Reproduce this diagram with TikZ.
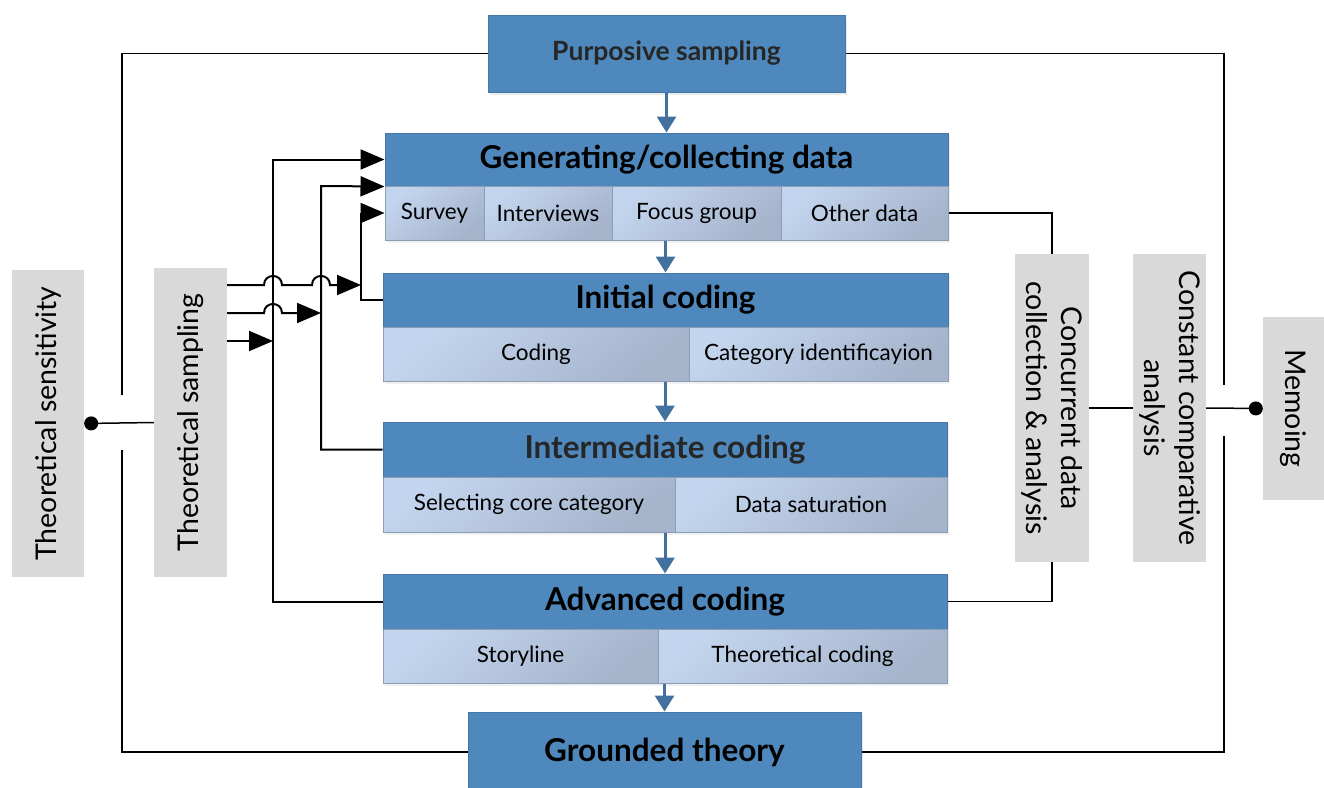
\documentclass[tikz,border=0pt]{standalone}
\usepackage{fontspec}
\setmainfont{Lato}
\usetikzlibrary{arrows.meta,shadows,calc}
\definecolor{hdr}{HTML}{4E88BC}
\definecolor{hdrline}{HTML}{4677A8}
\definecolor{subA}{HTML}{C3D5EE}
\definecolor{subB}{HTML}{A5B4CB}
\definecolor{subline}{HTML}{8C9EB6}
\definecolor{barrow}{HTML}{41719C}
\definecolor{gbox}{HTML}{D9D9D9}
\definecolor{dtext}{HTML}{262626}
\begin{document}
\begin{tikzpicture}[x=1pt,y=-1pt,
  hdrbox/.style={draw=hdrline, line width=1pt, fill=hdr, inner sep=0pt,
    font=\fontsize{31.5}{36}\selectfont\bfseries,
    drop shadow={opacity=0.15, shadow xshift=2pt, shadow yshift=-3pt}},
  subbox/.style={draw=subline, line width=1pt, top color=subA, bottom color=subB,
    shading angle=40, inner sep=0pt, font=\fontsize{22.5}{26}\selectfont,
    drop shadow={opacity=0.12, shadow xshift=2pt, shadow yshift=-3pt}},
  graybox/.style={fill=gbox, draw=none, inner sep=0pt, align=center,
    font=\fontsize{28.5}{35}\selectfont},
  bluearrow/.style={draw=barrow, line width=3pt, -{Triangle[length=16pt,width=19pt]}},
  blkarrow/.style={line width=2pt, -{Triangle[length=24pt,width=20pt]}},
  blkline/.style={line width=2pt},
  thinline/.style={line width=1.5pt},
  dotline/.style={line width=1.5pt, {Circle[length=14pt]}-}
]
\useasboundingbox (0,0) rectangle (1324,787);

% main column
\node[hdrbox, minimum width=357, minimum height=77, text=dtext,
      font=\fontsize{26.5}{31}\selectfont\bfseries] (purp) at (666.5,53.5) {Purposive sampling};

\node[hdrbox, minimum width=563, minimum height=53] (gen) at (666.5,159.5) {Generating/collecting data};
\node[subbox, minimum width=99, minimum height=54] (survey) at (434.5,213) {Survey};
\node[subbox, minimum width=128, minimum height=54] (interv) at (548,213) {Interviews};
\node[subbox, minimum width=169, minimum height=54] (focus) at (696.5,213) {Focus group};
\node[subbox, minimum width=167, minimum height=54] (other) at (864.5,213) {Other data};

\node[hdrbox, minimum width=565, minimum height=54] (init) at (665.5,300) {Initial coding};
\node[subbox, minimum width=306, minimum height=54] (coding) at (536,354) {Coding};
\node[subbox, minimum width=259, minimum height=54] (categ) at (818.5,354) {Category identificayion};

\node[hdrbox, minimum width=564, minimum height=55, text=dtext] (inter) at (665,449.5) {Intermediate coding};
\node[subbox, minimum width=292, minimum height=55] (select) at (529,504.5) {Selecting core category};
\node[subbox, minimum width=272, minimum height=55] (satur) at (811,504.5) {Data saturation};

\node[hdrbox, minimum width=564, minimum height=55] (adv) at (665,601.5) {Advanced coding};
\node[subbox, minimum width=275, minimum height=54] (story) at (520.5,656) {Storyline};
\node[subbox, minimum width=289, minimum height=54] (theocod) at (802.5,656) {Theoretical coding};

\node[hdrbox, minimum width=393, minimum height=80] (gt) at (664.5,752) {Grounded theory};

% side boxes
\node[graybox, rotate=90, minimum width=307, minimum height=72] (ts) at (48,423.5) {Theoretical sensitivity};
\node[graybox, rotate=90, minimum width=309, minimum height=73] (tsamp) at (190.5,422.5) {Theoretical sampling};
\node[graybox, rotate=-90, minimum width=308, minimum height=74] (conc) at (1052,408) {Concurrent data\\collection \& analysis};
\node[graybox, rotate=-90, minimum width=308, minimum height=73] (cca) at (1169.5,408) {Constant comparative\\analysis};
\node[graybox, rotate=-90, minimum width=183, minimum height=61] (mem) at (1293.5,408.5) {Memoing};

% blue flow arrows
\draw[bluearrow] (purp.south) -- (gen.north);
\draw[bluearrow] (init.north |- focus.south) -- (init.north);
\draw[bluearrow] (inter.north |- coding.south) -- (inter.north);
\draw[bluearrow] (adv.north |- select.south) -- (adv.north);
\draw[bluearrow] (gt.north |- story.south) -- (gt.north);

% outer loops
\coordinate (lgapT) at (122,395);
\coordinate (lgapB) at (122,450);
\coordinate (rgapT) at (1224,385);
\coordinate (rgapB) at (1224,436);
\draw[thinline] (purp.west) -| (lgapT);
\draw[thinline] (lgapB) |- (gt.west);
\draw[thinline] (purp.east) -| (rgapT);
\draw[thinline] (rgapB) |- (gt.east);

% side connectors
\draw[dotline] (ts.south) -- (tsamp.north);
\draw[dotline] (mem.south) -- (cca.north);
\draw[thinline] (cca.south) -- (conc.north);
\draw[thinline] (other.east) -| (conc.west);
\draw[thinline] (conc.east) |- (adv.east);

% feedback arrows on the left
\coordinate (vA) at (273,159.5);
\coordinate (vB) at (321,186);
\coordinate (vC) at (361,213);
\draw[blkarrow] (adv.west) -| (vA) -- (gen.west);
\draw[blkarrow] (inter.west) -| (vB) -- (gen.south west);
\draw[blkarrow] (init.west) -| (vC) -- (survey.west);

\coordinate (h1e) at (361,285);
\coordinate (h2e) at (321,313);
\coordinate (h3e) at (273,341);
\draw[blkarrow] (tsamp.south |- h1e) -- ($(vA |- h1e)+(-9,0)$)
  .. controls +(0,-12) and +(0,-12) .. ++(18,0)
  -- ($(vB |- h1e)+(-9,0)$)
  .. controls +(0,-12) and +(0,-12) .. ++(18,0) -- (h1e);
\draw[blkarrow] (tsamp.south |- h2e) -- ($(vA |- h2e)+(-9,0)$)
  .. controls +(0,-12) and +(0,-12) .. ++(18,0) -- (h2e);
\draw[blkarrow] (tsamp.south |- h3e) -- (h3e);
\end{tikzpicture}
\end{document}
